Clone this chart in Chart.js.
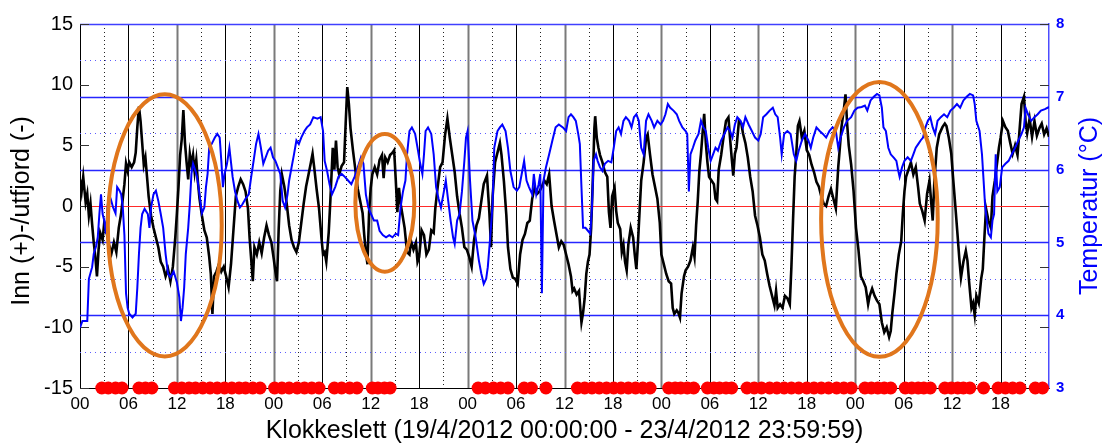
<!DOCTYPE html>
<html>
<head>
<meta charset="utf-8">
<script src="https://cdn.jsdelivr.net/npm/chart.js@4.4.0/dist/chart.umd.min.js"></script>
<style>
  html, body { margin: 0; padding: 0; background: #fff; }
</style>
</head>
<body>
<canvas id="chart" width="1106" height="446"></canvas>
<script>
// Inn/utfjord strom (venstre akse), timer fra 19/4 00:00
const flowHours = [
  0,0.2,0.4,0.7,0.9,1.1,1.3,1.5,1.7,1.9,
  2.1,2.3,2.5,2.8,3.0,3.3,3.6,3.9,4.2,4.5,
  4.8,5.1,5.3,5.5,5.7,5.9,6.1,6.4,6.7,6.9,
  7.1,7.3,7.5,7.7,7.9,8.1,8.3,8.5,8.8,9.1,
  9.4,9.7,10.0,10.3,10.6,10.9,11.2,11.5,11.8,12.0,
  12.2,12.4,12.6,12.8,13.0,13.2,13.4,13.6,13.8,14.0,
  14.2,14.4,14.6,14.8,15.1,15.4,15.7,16.0,16.2,16.4,
  16.6,16.9,17.2,17.5,17.8,18.1,18.4,18.7,19.0,19.3,
  19.6,19.9,20.2,20.5,20.8,21.0,21.2,21.4,21.6,21.9,
  22.2,22.5,22.8,23.1,23.4,23.7,24.0,24.2,24.4,24.6,
  24.8,25.0,25.3,25.6,25.9,26.2,26.5,26.8,27.1,27.4,
  27.7,28.0,28.3,28.6,28.8,29.0,29.3,29.6,29.9,
  30.1,30.3,30.5,30.8,31.0,31.3,31.5,31.7,31.9,32.1,
  32.4,32.7,32.9,33.1,33.3,33.5,33.8,34.1,34.4,34.7,
  35.0,35.2,35.4,35.6,35.8,36.0,36.2,36.5,36.8,37.1,
  37.4,37.6,37.8,38.1,38.4,38.7,38.9,39.1,39.3,39.5,
  39.7,39.9,40.2,40.5,40.8,41.0,41.3,41.6,41.8,42.0,
  42.3,42.6,42.9,43.2,43.5,43.8,44.0,44.3,44.6,44.9,
  45.2,45.5,45.8,46.1,46.4,46.7,47.0,47.3,47.6,47.9,
  48.2,48.5,48.8,49.1,49.4,49.7,50.0,50.4,50.7,50.9,
  51.1,51.4,51.7,52.0,52.2,52.5,52.8,53.0,53.3,53.6,
  53.9,54.2,54.5,54.8,55.1,55.4,55.7,56.0,56.3,56.6,
  56.9,57.2,57.5,57.8,58.1,58.4,58.7,59.0,59.3,59.6,59.9,
  60.2,60.5,60.8,61.0,61.2,61.5,61.8,62.0,62.1,62.3,
  62.5,62.7,62.9,63.1,63.3,63.5,63.7,63.8,64.0,64.2,
  64.4,64.7,65.0,65.3,65.5,65.7,65.9,66.2,66.4,66.6,
  66.9,67.1,67.3,67.5,67.7,67.9,68.2,68.5,68.7,68.9,
  69.1,69.3,69.5,69.8,70.1,70.3,70.6,70.9,71.2,71.5,
  71.8,72.0,72.3,72.6,72.9,73.2,73.4,73.6,73.9,74.1,
  74.3,74.5,74.8,75.0,75.3,75.6,75.9,76.1,76.3,76.5,
  76.7,76.9,77.1,77.3,77.5,77.7,77.9,78.2,78.5,78.7,
  78.9,79.1,79.4,79.7,80.0,80.3,80.5,80.7,80.9,81.1,
  81.3,81.6,81.9,82.1,82.4,82.7,83.0,83.3,83.6,83.9,
  84.2,84.5,84.8,85.1,85.4,85.7,86.0,86.2,86.4,86.7,
  87.0,87.3,87.6,87.9,88.1,88.3,88.5,88.7,88.9,89.1,
  89.4,89.7,
  90.0,90.3,90.6,90.9,91.2,91.5,91.8,92.1,92.4,92.7,
  93.0,93.3,93.6,93.9,94.1,94.3,94.6,94.8,95.0,95.2,
  95.5,95.8,96.1,96.4,96.7,97.0,97.3,97.6,97.8,98.1,
  98.4,98.7,99.0,99.3,99.6,99.9,100.2,100.4,100.6,100.9,
  101.1,101.4,101.7,101.9,102.1,102.3,102.6,102.9,103.2,103.5,
  103.8,104.0,104.3,104.6,104.9,105.2,105.4,105.6,105.8,106.1,
  106.4,106.8,107.1,107.3,107.6,107.9,108.1,108.4,108.7,108.9,
  109.1,109.4,109.7,109.9,110.1,110.4,110.6,110.8,111.0,111.3,
  111.6,111.8,112.0,112.2,112.5,112.8,113.0,113.3,113.6,113.8,
  114.0,114.3,114.6,114.9,115.2,115.5,115.8,116.1,116.3,116.6,
  116.9,117.1,117.3,117.6,117.9,118.2,118.5,118.8,119.1,119.4,
  119.7,120.0
];
const flowValues = [
  2.2,1.2,2.4,0.3,1.0,-0.8,0.2,-1.5,-3.0,-4.2,
  -5.8,-3.6,-2.2,-2.8,-1.4,-2.2,-3.2,-3.9,-3.0,-3.8,
  -1.8,-0.6,0.6,1.8,3.5,2.9,3.6,3.2,3.6,4.4,
  6.5,8.2,7.0,5.2,3.4,4.0,2.4,0.8,-0.8,-1.8,
  -2.6,-3.4,-4.6,-5.0,-5.8,-5.2,-6.2,-5.0,-2.6,-0.6,
  1.6,4.2,5.5,7.9,5.2,3.6,2.2,4.3,3.4,4.2,
  2.8,3.8,2.0,0.6,-0.8,-2.0,-2.6,-4.2,-5.6,-8.9,
  -5.8,-5.4,-4.8,-5.4,-5.0,-5.8,-6.7,-4.8,-2.0,0.8,
  1.6,2.2,1.8,1.2,-0.2,-2.6,-4.4,-6.2,-3.4,-4.0,
  -3.0,-3.9,-2.6,-1.6,-2.4,-3.0,-4.4,-5.4,-6.2,-2.0,
  1.2,2.6,1.6,0.2,-1.6,-2.8,-3.4,-3.8,-3.0,-1.4,
  0.2,1.6,2.6,3.6,4.3,3.2,1.4,-0.2,-2.6,
  -4.0,-3.8,-4.6,-2.2,0.4,4.8,3.0,5.4,3.2,2.6,
  3.3,3.6,6.8,9.8,8.4,6.4,4.6,3.0,1.4,0.4,
  -0.6,-2.4,-3.8,-4.8,-0.5,1.5,2.6,3.2,2.6,3.8,
  4.2,2.3,4.0,3.6,4.2,4.4,4.6,2.2,-0.5,1.5,
  0.2,-0.6,-1.8,-3.8,-4.0,-2.9,-3.6,-3.0,-4.6,-4.2,
  -2.0,-2.4,-4.0,-3.6,-2.0,-2.2,-0.2,1.6,3.2,3.6,
  5.8,7.2,5.6,4.2,2.8,0.8,-0.6,-1.8,-3.4,-3.6,
  -4.2,-5.0,-2.8,-1.6,-1.0,0.4,1.8,2.5,-0.6,-3.4,
  0.8,3.6,4.4,5.2,4.2,2.0,-0.8,-3.4,-5.2,-5.9,
  -6.0,-6.4,-4.0,-2.8,-2.3,-1.4,-1.2,0.6,1.5,1.0,
  1.2,1.6,2.1,1.8,2.6,0.0,-1.2,-2.3,-3.4,-2.9,-3.2,
  -4.0,-4.8,-5.8,-7.0,-6.8,-7.3,-7.0,-8.8,-9.6,-8.8,
  -7.6,-5.6,-4.6,-4.0,-1.8,2.0,6.4,7.4,5.6,4.8,
  4.2,3.6,2.8,2.4,-0.5,-1.8,0.8,1.5,-0.4,-1.4,
  -1.9,-3.8,-3.2,-4.6,-5.3,-3.2,-1.8,-2.6,-4.0,-5.2,
  -3.0,-0.4,2.1,3.6,5.6,5.9,4.2,2.6,1.6,0.6,
  -1.4,-4.0,-4.8,-5.6,-6.2,-6.4,-8.4,-8.9,-8.6,-8.8,
  -9.2,-7.2,-5.8,-5.3,-5.0,-4.5,-3.4,-4.2,-1.6,0.4,
  2.9,4.3,6.0,7.6,5.2,3.6,2.4,2.1,1.8,0.6,
  0.4,3.0,4.2,5.7,7.0,7.3,5.6,4.0,2.5,4.3,
  4.8,7.0,6.8,6.0,5.2,4.0,2.4,1.2,-0.8,-1.6,
  -2.6,-4.0,-4.5,-5.6,-6.6,-7.4,-8.2,-7.0,-8.4,-8.1,
  -8.4,-7.4,-7.6,-8.1,-5.0,-1.2,2.4,4.3,6.6,7.0,
  5.6,6.2,
  4.6,4.2,3.4,2.8,2.0,1.6,0.8,0.2,0.0,0.8,
  1.4,0.6,-0.2,3.2,4.8,6.5,8.0,9.2,6.8,5.0,
  3.4,1.2,-1.8,-3.6,-5.8,-6.2,-6.7,-8.1,-7.4,-6.8,
  -7.4,-7.8,-8.1,-9.6,-10.4,-10.0,-10.8,-10.3,-8.8,-7.0,
  -5.6,-4.0,-2.9,-0.6,1.2,2.4,3.0,3.6,2.6,3.2,
  1.5,0.2,-0.4,-1.2,1.0,2.1,0.4,-1.2,2.0,4.8,
  5.9,6.5,6.8,6.6,5.6,4.3,2.5,0.0,-2.6,-4.4,
  -5.9,-4.6,-3.7,-4.5,-6.2,-8.4,-8.0,-9.0,-7.4,-8.0,
  -6.0,-5.2,-2.6,-0.2,-1.2,-1.8,0.8,2.1,3.7,4.8,
  5.6,7.0,6.5,6.2,5.2,4.3,5.0,4.2,5.8,8.4,
  9.0,7.0,6.0,7.2,5.7,7.0,5.8,6.4,6.8,5.9,
  6.4,5.7
];

// Temperatur (hoyre akse)
const tempHours = [
  0.0,0.3,0.9,1.1,1.5,1.7,2.0,2.2,2.4,2.6,
  2.8,3.0,3.2,3.4,3.6,3.8,4.1,4.4,4.6,4.9,
  5.1,5.3,5.5,5.7,5.9,6.1,6.5,6.9,7.1,7.3,
  7.5,7.7,8.0,8.4,8.6,8.8,9.1,9.4,9.7,10.0,
  10.3,10.6,10.9,11.2,11.6,12.0,12.3,12.5,12.7,12.9,
  13.1,13.4,13.6,13.8,14.0,14.3,14.5,14.8,15.1,15.4,
  15.6,15.8,16.0,16.3,16.7,17.0,17.3,17.5,17.7,17.9,
  18.2,18.5,18.7,18.9,19.2,19.5,19.8,20.1,20.5,20.9,
  21.2,21.5,21.8,22.1,22.4,22.7,23.0,23.3,23.6,23.9,
  24.2,24.5,24.8,25.1,25.4,25.7,25.9,26.2,26.5,26.8,
  27.1,27.4,27.8,28.1,28.5,28.9,29.4,29.8,30.1,30.3,
  30.6,30.9,31.2,31.6,32.0,32.4,32.8,33.2,33.6,34.0,
  34.4,34.8,35.1,35.4,35.7,36.0,36.4,36.8,37.1,37.5,
  37.9,38.3,38.7,39.1,39.4,39.7,40.0,40.3,40.5,40.8,
  41.1,41.5,41.8,42.1,42.4,42.6,42.8,43.1,43.5,43.8,
  44.1,44.4,44.7,45.0,45.3,45.6,45.9,46.2,46.4,46.7,
  47.0,47.3,47.6,47.8,48.0,48.3,48.6,49.0,49.4,49.7,
  50.0,50.3,50.5,50.8,51.1,51.3,51.7,52.0,52.3,52.7,
  53.0,53.3,53.7,54.1,54.4,54.7,55.0,55.3,55.6,56.0,
  56.2,56.5,56.8,57.0,57.2,57.4,57.7,58.1,58.5,58.9,
  59.3,59.8,60.2,60.5,60.8,61.1,61.4,61.7,61.9,62.1,
  62.3,62.6,62.9,63.2,63.4,63.6,63.9,64.1,64.4,64.7,
  65.0,65.4,65.8,66.1,66.4,66.7,67.0,67.3,67.6,68.0,
  68.3,68.6,68.9,69.2,69.5,69.8,70.1,70.4,70.8,71.1,
  71.5,71.9,72.2,72.5,72.8,73.1,73.5,73.9,74.2,74.6,
  75.0,75.2,75.4,75.6,75.9,76.2,76.6,76.9,77.2,77.5,
  77.8,78.1,78.4,78.7,79.0,79.4,79.8,80.2,80.5,80.8,
  81.1,81.4,81.8,82.1,82.4,82.8,83.2,83.6,84.0,84.3,
  84.6,85.0,85.4,85.8,86.1,86.4,86.7,86.9,87.2,87.6,
  88.0,88.4,88.7,89.0,89.4,89.8,90.2,90.5,90.8,91.2,
  91.6,92.0,92.4,92.8,93.2,93.6,93.9,94.2,94.6,95.0,
  95.5,95.9,96.3,96.8,97.2,97.5,97.9,98.3,98.7,99.0,
  99.3,99.5,99.8,100.1,100.4,100.8,101.1,101.3,101.5,101.8,
  102.1,102.5,102.9,103.2,103.5,103.8,104.1,104.4,104.7,105.0,
  105.3,105.6,105.9,106.2,106.6,107.0,107.4,107.8,108.2,108.6,
  109.0,109.4,109.8,110.2,110.6,110.8,111.0,111.4,111.7,111.9,
  112.1,112.3,112.5,112.8,113.0,113.2,113.4,113.6,113.9,114.2,
  114.6,115.0,115.4,115.8,116.2,116.6,116.9,117.1,117.4,117.8,
  118.2,118.6,119.0,119.5,120.0
];
const tempValues = [
  3.83,3.92,3.92,4.50,4.66,4.84,4.95,5.07,5.39,5.66,
  5.39,5.30,5.12,5.48,5.66,5.60,5.48,5.40,5.76,5.71,
  5.66,5.48,5.10,4.30,4.10,4.02,3.97,4.02,4.38,4.84,
  5.20,5.39,5.46,5.39,5.20,5.48,5.66,5.71,5.57,5.39,
  5.20,4.84,4.57,4.52,4.60,4.45,4.25,3.92,4.10,4.38,
  4.84,5.20,5.53,5.94,6.08,5.98,5.90,5.66,5.40,5.48,
  5.76,5.94,6.30,6.35,6.44,6.49,6.44,6.12,5.76,5.94,
  6.08,6.30,6.10,5.90,5.70,5.57,5.48,5.52,5.60,5.66,
  5.90,6.12,6.35,6.49,6.30,6.08,6.17,6.26,6.30,6.17,
  6.12,6.03,5.94,5.57,5.48,5.66,5.85,6.03,6.21,6.40,
  6.35,6.44,6.53,6.58,6.62,6.72,6.70,6.72,6.53,6.12,
  5.98,5.80,5.66,5.76,5.90,5.94,5.90,5.85,5.80,5.90,
  6.03,6.17,6.08,5.66,5.48,5.40,5.30,5.30,5.16,5.10,
  5.07,5.10,5.07,5.12,5.10,5.48,5.70,5.85,6.21,6.53,
  6.58,6.49,6.30,6.10,5.94,6.21,6.53,6.58,6.49,6.21,
  5.76,5.60,5.48,5.66,5.85,5.57,5.30,5.07,4.98,5.30,
  5.39,5.70,6.12,6.44,6.53,5.85,5.30,5.07,4.75,4.57,
  4.43,4.50,4.66,5.07,5.53,6.30,6.53,6.58,6.62,6.53,
  6.30,5.98,5.76,5.71,5.76,5.94,6.12,5.85,5.76,5.66,
  5.94,5.66,5.80,5.94,4.30,5.85,6.03,6.21,6.40,6.58,
  6.62,6.58,6.53,6.72,6.76,6.72,6.67,6.49,6.35,5.76,
  5.20,5.20,5.16,5.12,5.48,6.12,6.21,6.12,6.03,5.98,
  6.08,6.12,6.10,6.30,6.53,6.58,6.49,6.67,6.72,6.67,
  6.58,6.72,6.76,6.67,6.30,6.21,6.67,6.76,6.67,6.58,
  6.67,6.62,6.67,6.76,6.90,6.85,6.81,6.76,6.67,6.58,
  6.53,6.49,5.70,6.21,6.30,6.40,6.49,6.67,6.58,6.53,
  6.30,6.12,6.21,6.30,6.26,6.40,6.49,6.58,6.53,6.44,
  6.62,6.72,6.67,6.58,6.72,6.62,6.53,6.44,6.40,6.49,
  6.72,6.76,6.81,6.85,6.76,6.72,6.44,6.21,6.49,6.53,
  6.49,6.21,6.12,6.26,6.40,6.49,6.40,6.30,6.44,6.58,
  6.53,6.49,6.44,6.53,6.58,6.53,6.30,6.44,6.58,6.67,
  6.72,6.81,6.85,6.86,6.88,6.81,6.95,7.00,7.04,7.02,
  6.85,6.58,6.53,6.30,6.21,6.16,6.12,6.00,5.90,6.03,
  6.12,6.17,6.12,6.21,6.30,6.35,6.40,6.44,6.58,6.67,
  6.72,6.58,6.49,6.67,6.72,6.76,6.72,6.81,6.85,6.90,
  6.85,6.95,7.00,7.04,7.02,6.90,6.67,6.53,6.21,5.85,
  5.48,5.30,5.12,5.07,5.30,5.39,6.21,5.70,5.76,6.03,
  6.08,6.12,6.21,6.30,6.40,6.49,6.58,6.85,6.76,6.67,
  6.72,6.76,6.81,6.83,6.86
];

// tidspunkt for rode markeringer (plottet paa -15)
const markHours = [
  2.7,3.5,4.4,5.2, 7.3,8.1,8.9,
  11.7,12.6,13.5,14.3,15.2,16.1,17.0,17.9,18.8,19.7,20.5,21.4,22.3,
  24.1,25.0,25.9,26.9,27.8,28.7,29.6,
  31.5,32.4,33.4,34.3, 36.2,36.9,37.7,38.4,
  49.3,50.2,51.2,52.1,53.0, 55.0,55.9, 57.7,
  61.6,62.5,63.4,64.3,65.2,66.1,67.0,67.9,68.8,69.7,70.6,
  72.9,73.7,74.4,75.2,76.0, 77.7,78.5,79.2,80.0,80.7,
  82.6,83.5,84.4,85.4,86.3,87.2,88.1,89.0,90.0,90.9,91.8,92.7,93.7,94.6,95.5,
  97.2,98.0,98.8,99.6,100.4, 102.2,103.0,103.8,104.5,105.3,
  107.1,107.9,108.7,109.4,110.2, 111.9, 113.7,114.6,115.5,116.4, 118.3,119.2
];
const markLevel = -15;

// ellipser: [senter time, senter verdi, halv bredde (timer), halv hoyde (verdi)]
const ellipses = [
  [10.5, -1.6, 7.05, 10.8],
  [37.75, 0.26, 3.65, 5.67],
  [99.0, -1.1, 7.22, 11.33]
];

const flowTicks = [-15, -10, -5, 0, 5, 10, 15];
const tempMajor = [4, 5, 6, 7];
const tempMinor = [3.5, 4.5, 6.5, 7.5];

if (flowHours.length !== flowValues.length) console.error("flow length", flowHours.length, flowValues.length);
if (tempHours.length !== tempValues.length) console.error("temp length", tempHours.length, tempValues.length);

const FONT = "'Liberation Sans', Arial, Helvetica, sans-serif";
Chart.defaults.font.family = FONT;

const flowPoints = flowHours.map((h, i) => ({ x: h, y: flowValues[i] }));
const tempPoints = tempHours.map((h, i) => ({ x: h, y: tempValues[i] }));
const markPoints = markHours.map(h => ({ x: h, y: markLevel }));

// grid in matlab style, behind the lines
const gridPlugin = {
  id: "matlabGrid",
  beforeDatasetsDraw(chart) {
    const { ctx, chartArea: a, scales } = chart;
    const x = scales.x, y = scales.y, yT = scales.yT;
    ctx.save();
    const hline = (py, color, w, dash) => {
      ctx.beginPath();
      ctx.setLineDash(dash);
      ctx.strokeStyle = color;
      ctx.lineWidth = w;
      ctx.moveTo(a.left, Math.round(py) + 0.5);
      ctx.lineTo(a.right, Math.round(py) + 0.5);
      ctx.stroke();
    };
    const vline = (px, color, w, dash) => {
      ctx.beginPath();
      ctx.setLineDash(dash);
      ctx.strokeStyle = color;
      ctx.lineWidth = w;
      ctx.moveTo(Math.round(px) + 0.5, a.top);
      ctx.lineTo(Math.round(px) + 0.5, a.bottom);
      ctx.stroke();
    };
    for (let h = 3; h < 120; h += 3) {
      const px = x.getPixelForValue(h);
      if (h % 6 !== 0) vline(px, "#222", 1, [1, 3]);
      else if (h % 12 === 0) vline(px, "#7a7a7a", 2, []);
      else vline(px, "#000", 1, []);
    }
    tempMinor.forEach(v => hline(yT.getPixelForValue(v), "#5c5cff", 1, [1, 4]));
    tempMajor.forEach(v => hline(yT.getPixelForValue(v), "#2626ff", 1.4, []));
    hline(y.getPixelForValue(0), "#ff2a2a", 1, []);
    hline(a.top, "#4040ff", 1.5, []);
    ctx.setLineDash([]);
    ctx.strokeStyle = "#333";
    ctx.lineWidth = 1;
    flowTicks.forEach(v => {
      const py = Math.round(y.getPixelForValue(v)) + 0.5;
      ctx.beginPath();
      ctx.moveTo(a.left, py); ctx.lineTo(a.left + 9, py);
      ctx.moveTo(a.right - 9, py); ctx.lineTo(a.right, py);
      ctx.stroke();
    });
    ctx.restore();
  }
};

const ellipsePlugin = {
  id: "ellipses",
  afterDatasetsDraw(chart) {
    const { ctx, scales: { x, y } } = chart;
    ctx.save();
    ctx.strokeStyle = "#e0761c";
    ctx.lineWidth = 4;
    ellipses.forEach(([t, v, rt, rv]) => {
      const cx = x.getPixelForValue(t), cy = y.getPixelForValue(v);
      const rx = Math.abs(x.getPixelForValue(t + rt) - cx);
      const ry = Math.abs(y.getPixelForValue(v + rv) - cy);
      ctx.beginPath();
      ctx.ellipse(cx, cy, rx, ry, 0, 0, Math.PI * 2);
      ctx.stroke();
    });
    ctx.restore();
  }
};

// both axis titles read bottom-to-top, like the original
const axisTitlePlugin = {
  id: "axisTitles",
  afterDraw(chart) {
    const { ctx, chartArea: a } = chart;
    const drawUp = (text, px, py, color) => {
      ctx.save();
      ctx.translate(px, py);
      ctx.rotate(-Math.PI / 2);
      ctx.fillStyle = color;
      ctx.font = "25px " + FONT;
      ctx.textAlign = "center";
      ctx.textBaseline = "alphabetic";
      ctx.fillText(text, 0, 0);
      ctx.restore();
    };
    drawUp("Inn (+)-/utfjord (-)", 29, (a.top + a.bottom) / 2 + 5, "#000");
    drawUp("Temperatur (\u00B0C)", chart.width - 9, (a.top + a.bottom) / 2, "#0000ff");
  }
};

new Chart(document.getElementById("chart"), {
  type: "scatter",
  data: {
    datasets: [
      {
        label: "Markering",
        data: markPoints,
        yAxisID: "y",
        pointRadius: 6.5,
        pointHoverRadius: 6.5,
        pointBackgroundColor: "#ff0000",
        pointBorderWidth: 0,
        clip: false,
        order: 0
      },
      {
        label: "Temperatur",
        data: tempPoints,
        yAxisID: "yT",
        showLine: true,
        borderColor: "#0000ff",
        borderWidth: 2,
        pointRadius: 0,
        order: 1
      },
      {
        label: "Inn/utfjord",
        data: flowPoints,
        yAxisID: "y",
        showLine: true,
        borderColor: "#000000",
        borderWidth: 2.6,
        pointRadius: 0,
        order: 2
      }
    ]
  },
  options: {
    responsive: false,
    animation: false,
    layout: { padding: { top: 24, left: 0, right: 0, bottom: 0 } },
    plugins: { legend: { display: false }, tooltip: { enabled: false } },
    scales: {
      x: {
        type: "linear",
        min: 0,
        max: 120,
        grid: { display: false, drawTicks: false },
        border: { display: true, color: "#000", width: 1 },
        ticks: {
          stepSize: 6,
          autoSkip: false,
          maxRotation: 0,
          padding: 6,
          color: "#000",
          font: { size: 17 },
          callback: v => (v >= 120 ? "" : String(v % 24).padStart(2, "0"))
        },
        title: {
          display: true,
          text: "Klokkeslett (19/4/2012 00:00:00 - 23/4/2012 23:59:59)",
          color: "#000",
          font: { size: 25 },
          padding: { top: 0, bottom: 0 }
        },
        afterFit: s => { s.height = 58; s.paddingLeft = 0; s.paddingRight = 0; }
      },
      y: {
        position: "left",
        min: -15,
        max: 15,
        grid: { display: false, drawTicks: false },
        border: { display: true, color: "#000", width: 1 },
        ticks: { stepSize: 5, padding: 7, color: "#000", font: { size: 20 } },
        afterFit: s => { s.width = 80; s.paddingTop = 0; s.paddingBottom = 0; }
      },
      yT: {
        position: "right",
        min: 3,
        max: 8,
        grid: { display: false, drawTicks: false },
        border: { display: true, color: "#4d4dff", width: 1.5 },
        ticks: { stepSize: 1, padding: 7, color: "#0000ff", font: { size: 15, weight: "bold" } },
        afterFit: s => { s.width = 57; s.paddingTop = 0; s.paddingBottom = 0; }
      }
    }
  },
  plugins: [gridPlugin, ellipsePlugin, axisTitlePlugin]
});
</script>
</body>
</html>
